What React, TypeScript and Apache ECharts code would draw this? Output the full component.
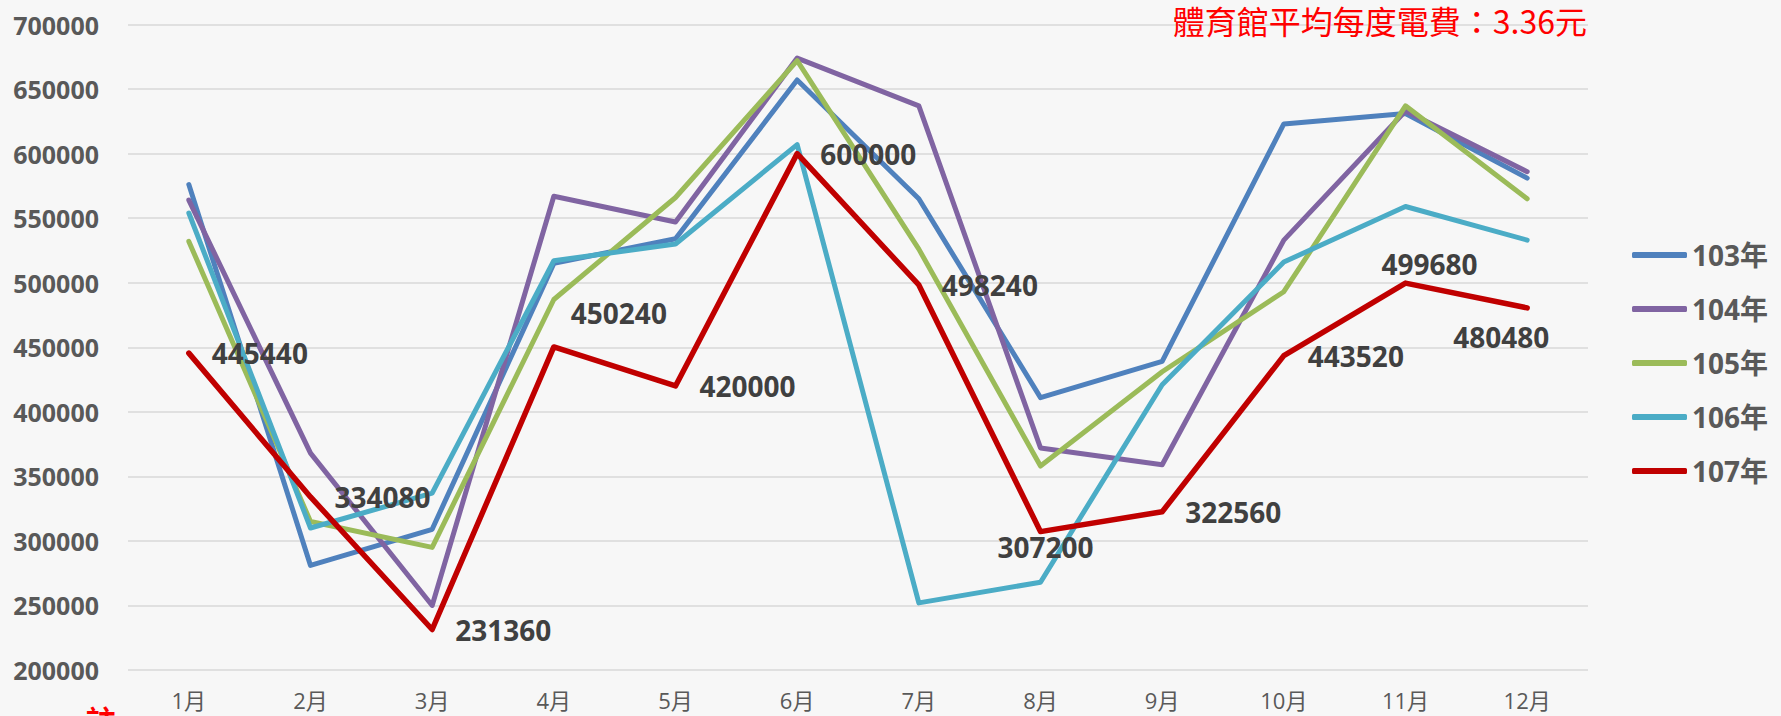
import React, { useEffect, useRef } from "react";
import * as echarts from "echarts";

const months = ["1月", "2月", "3月", "4月", "5月", "6月", "7月", "8月", "9月", "10月", "11月", "12月"];
const seriesNames = ["103年", "104年", "105年", "106年", "107年"];

const y103 = [576000, 281000, 309000, 515000, 534000, 657000, 565000, 411000, 439000, 623000, 631000, 581000];
const y104 = [564000, 368000, 250000, 567000, 547000, 674000, 637000, 372000, 359000, 533000, 633000, 586000];
const y105 = [532000, 315000, 295000, 487000, 566000, 672000, 526000, 358000, 431000, 493000, 637000, 565000];
const y106 = [554000, 310000, 337000, 517000, 530000, 607000, 252000, 268000, 421000, 516000, 559000, 533000];
const y107 = [445440, 334080, 231360, 450240, 420000, 600000, 498240, 307200, 322560, 443520, 499680, 480480];

const seriesValues = [y103, y104, y105, y106, y107];
const colors = ["#4F81BD", "#8064A2", "#9BBB59", "#4BACC6", "#C00000"];

const titleText = "體育館平均每度電費：3.36元";
const noteText = "註";

// label placement for the 107年 data labels (style only)
const labelPlacement: any[] = [
  { position: "right", distance: 23 },
  { position: "right", distance: 24 },
  { position: "right", distance: 23 },
  { position: "right", distance: 17, offset: [0, -34] },
  { position: "right", distance: 24 },
  { position: "right", distance: 23 },
  { position: "right", distance: 23 },
  { position: "bottom", distance: 1, offset: [5, 0] },
  { position: "right", distance: 23 },
  { position: "right", distance: 24 },
  { position: "top", distance: 5, offset: [24, 0] },
  { position: "bottom", distance: 15, offset: [-26, 0] },
];

const numFont = "'Open Sans', 'Noto Sans CJK TC', sans-serif";

export default function App() {
  const ref = useRef<HTMLDivElement>(null);
  useEffect(() => {
    if (!ref.current) return;
    const chart = echarts.init(ref.current, undefined, { renderer: "svg" });
    const series = seriesNames.map((name, si) => {
      const isLast = si === seriesNames.length - 1;
      return {
        name,
        type: "line",
        symbol: "circle",
        symbolSize: 0,
        showSymbol: true,
        z: 2 + si,
        itemStyle: { color: colors[si] },
        lineStyle: { color: colors[si], width: isLast ? 5.5 : 5, cap: "round", join: "round" },
        emphasis: { disabled: true },
        label: isLast
          ? {
              show: true,
              color: "#404040",
              fontSize: 28,
              fontWeight: "bold",
              fontFamily: numFont,
            }
          : { show: false },
        data: seriesValues[si].map((v, i) =>
          isLast ? { value: v, label: labelPlacement[i] } : v
        ),
      };
    });
    chart.setOption({
      animation: false,
      backgroundColor: "#F7F7F7",
      title: {
        text: titleText,
        right: 194,
        top: 4,
        padding: 0,
        textStyle: {
          color: "#FF0000",
          fontSize: 32,
          fontWeight: "normal",
          fontFamily: "'Noto Sans CJK TC', sans-serif",
        },
      },
      graphic: [
        {
          type: "text",
          left: 86,
          top: 704,
          style: {
            text: noteText,
            fill: "#FF0000",
            fontSize: 30,
            fontWeight: "bold",
            fontFamily: "'Noto Sans CJK TC', sans-serif",
          },
        },
      ],
      legend: {
        orient: "vertical",
        left: 1627,
        top: 235,
        icon: "roundRect",
        itemWidth: 55,
        itemHeight: 6,
        itemGap: 24,
        data: seriesNames,
        textStyle: {
          color: "#595959",
          fontSize: 28,
          fontWeight: "bold",
          lineHeight: 30,
          fontFamily: numFont,
        },
      },
      grid: { left: 128, right: 193, top: 24.5, bottom: 46, containLabel: false },
      xAxis: {
        type: "category",
        data: months,
        boundaryGap: true,
        axisLine: { show: false },
        axisTick: { show: false },
        axisLabel: { color: "#595959", fontSize: 22, margin: 19, fontFamily: numFont },
      },
      yAxis: {
        type: "value",
        min: 200000,
        max: 700000,
        interval: 50000,
        axisLine: { show: false },
        axisTick: { show: false },
        axisLabel: {
          color: "#595959",
          fontSize: 25,
          fontWeight: "bold",
          margin: 29,
          fontFamily: numFont,
          formatter: (v: number) => String(v),
        },
        splitLine: { lineStyle: { color: "#D9D9D9", width: 1.5 } },
      },
      series,
    });
    return () => chart.dispose();
  }, []);
  return (
    <div
      ref={ref}
      style={{ position: "absolute", left: 0, top: 0, width: 1781, height: 716 }}
    />
  );
}
